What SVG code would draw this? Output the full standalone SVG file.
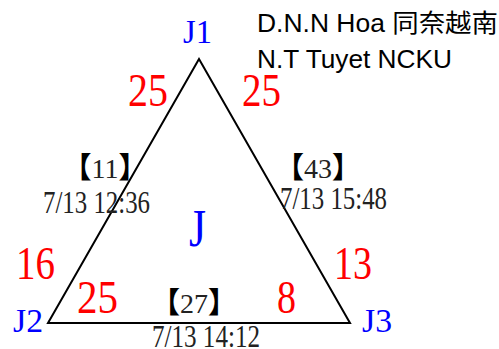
<svg xmlns="http://www.w3.org/2000/svg" width="499" height="349" viewBox="0 0 499 349">
<style>
.bg{fill:#fff}
.edge{fill:none;stroke:#000;stroke-width:2;stroke-linejoin:miter}
.v{font-family:"Liberation Serif",serif;fill:#0000ff}
.w{font-family:"Liberation Serif",serif;fill:#ff0000;font-size:46px}
.lb{font-family:"Liberation Serif","Noto Sans CJK TC",serif;fill:#222;font-size:28px}
.br{font-family:"Noto Sans CJK TC",sans-serif;font-size:29px;font-weight:bold;fill:#000}
.ts{font-family:"Liberation Serif",serif;fill:#222;font-size:31px}
.au{font-family:"Liberation Sans","Noto Sans CJK TC",sans-serif;fill:#000;font-size:25px}
</style>
<rect class="bg" x="0" y="0" width="499" height="349"/>
<g id="connectors">
<path class="edge" d="M199,59 L48,323 L350,323 Z"/>
</g>
<g id="J1"><text class="v" x="183" y="43" font-size="33" textLength="29" lengthAdjust="spacingAndGlyphs">J1</text></g>
<g id="J2"><text class="v" x="13" y="332" font-size="34" textLength="30" lengthAdjust="spacingAndGlyphs">J2</text></g>
<g id="J3"><text class="v" x="362" y="332" font-size="34" textLength="30" lengthAdjust="spacingAndGlyphs">J3</text></g>
<g id="J"><text class="v" x="189" y="246" font-size="52" textLength="17" lengthAdjust="spacingAndGlyphs">J</text></g>
<g id="weights">
<text class="w" x="128" y="106" textLength="40" lengthAdjust="spacingAndGlyphs">25</text>
<text class="w" x="242" y="106" textLength="39" lengthAdjust="spacingAndGlyphs">25</text>
<text class="w" x="16" y="279" textLength="39" lengthAdjust="spacingAndGlyphs">16</text>
<text class="w" x="334" y="279" textLength="38" lengthAdjust="spacingAndGlyphs">13</text>
<text class="w" x="77" y="313" textLength="41" lengthAdjust="spacingAndGlyphs">25</text>
<text class="w" x="277" y="313" textLength="19" lengthAdjust="spacingAndGlyphs">8</text>
</g>
<g id="edge-labels">
<text class="lb" x="105" y="178" text-anchor="middle"><tspan class="br">【</tspan>11<tspan class="br">】</tspan></text>
<text class="ts" x="43" y="213" textLength="107" lengthAdjust="spacingAndGlyphs">7/13 12:36</text>
<text class="lb" x="318" y="178" text-anchor="middle"><tspan class="br">【</tspan>43<tspan class="br">】</tspan></text>
<text class="ts" x="280" y="209" textLength="107" lengthAdjust="spacingAndGlyphs">7/13 15:48</text>
<text class="lb" x="194" y="313" text-anchor="middle"><tspan class="br">【</tspan>27<tspan class="br">】</tspan></text>
<text class="ts" x="152" y="347" textLength="108" lengthAdjust="spacingAndGlyphs">7/13 14:12</text>
</g>
<g id="authors">
<text class="au" x="257" y="32" textLength="241" lengthAdjust="spacingAndGlyphs">D.N.N Hoa 同奈越南</text>
<text class="au" x="257" y="68" textLength="195" lengthAdjust="spacingAndGlyphs">N.T Tuyet NCKU</text>
</g>
</svg>
